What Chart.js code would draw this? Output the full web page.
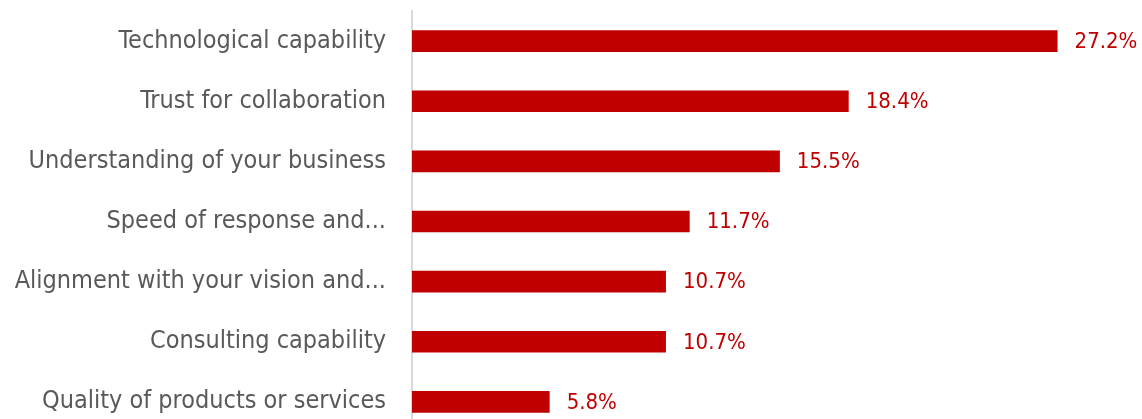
<!DOCTYPE html>
<html>
<head>
<meta charset="utf-8">
<script src="https://cdn.jsdelivr.net/npm/chart.js@4"></script>
<style>
  html,body{margin:0;padding:0;background:#fff;overflow:hidden;}
  canvas{display:block;}
</style>
</head>
<body>
<canvas id="c" width="1142" height="432"></canvas>
<script>
const categories = [
  'Technological capability',
  'Trust for collaboration',
  'Understanding of your business',
  'Speed of response and...',
  'Alignment with your vision and...',
  'Consulting capability',
  'Quality of products or services'
];
const shares = [27.2, 18.4, 15.5, 11.7, 10.7, 10.7, 5.8];

const FONT = "'Liberation Sans Narrow', 'DejaVu Sans Condensed', 'Liberation Sans', sans-serif";

// value labels at the end of each bar
const barLabels = {
  id: 'barLabels',
  afterDatasetsDraw(chart){
    const ctx = chart.ctx;
    const meta = chart.getDatasetMeta(0);
    ctx.save();
    ctx.fillStyle = '#c00000';
    ctx.font = '22px ' + FONT;
    ctx.textAlign = 'left';
    ctx.textBaseline = 'middle';
    meta.data.forEach((bar, i) => {
      ctx.fillText(shares[i].toFixed(1) + '%', bar.x + 17, bar.y + 1);
    });
    ctx.restore();
  }
};

new Chart(document.getElementById('c').getContext('2d'), {
  type: 'bar',
  data: {
    labels: categories,
    datasets: [{
      data: shares,
      backgroundColor: '#c00000',
      borderWidth: 0,
      barPercentage: 0.36,
      categoryPercentage: 1
    }]
  },
  options: {
    indexAxis: 'y',
    responsive: false,
    animation: false,
    layout: { padding: { top: 11, right: 18, bottom: 0, left: 0 } },
    plugins: { legend: { display: false }, tooltip: { enabled: false } },
    scales: {
      x: { display: false, min: 0, max: 30 },
      y: {
        grid: { display: false, drawTicks: false },
        border: { display: true, color: '#d9d9d9', width: 2 },
        ticks: { color: '#595959', font: { size: 25, family: FONT }, padding: 26, autoSkip: false },
        afterFit(s){ s.width = 412; s.paddingTop = 0; s.paddingBottom = 0; }
      }
    }
  },
  plugins: [barLabels]
});
</script>
</body>
</html>
